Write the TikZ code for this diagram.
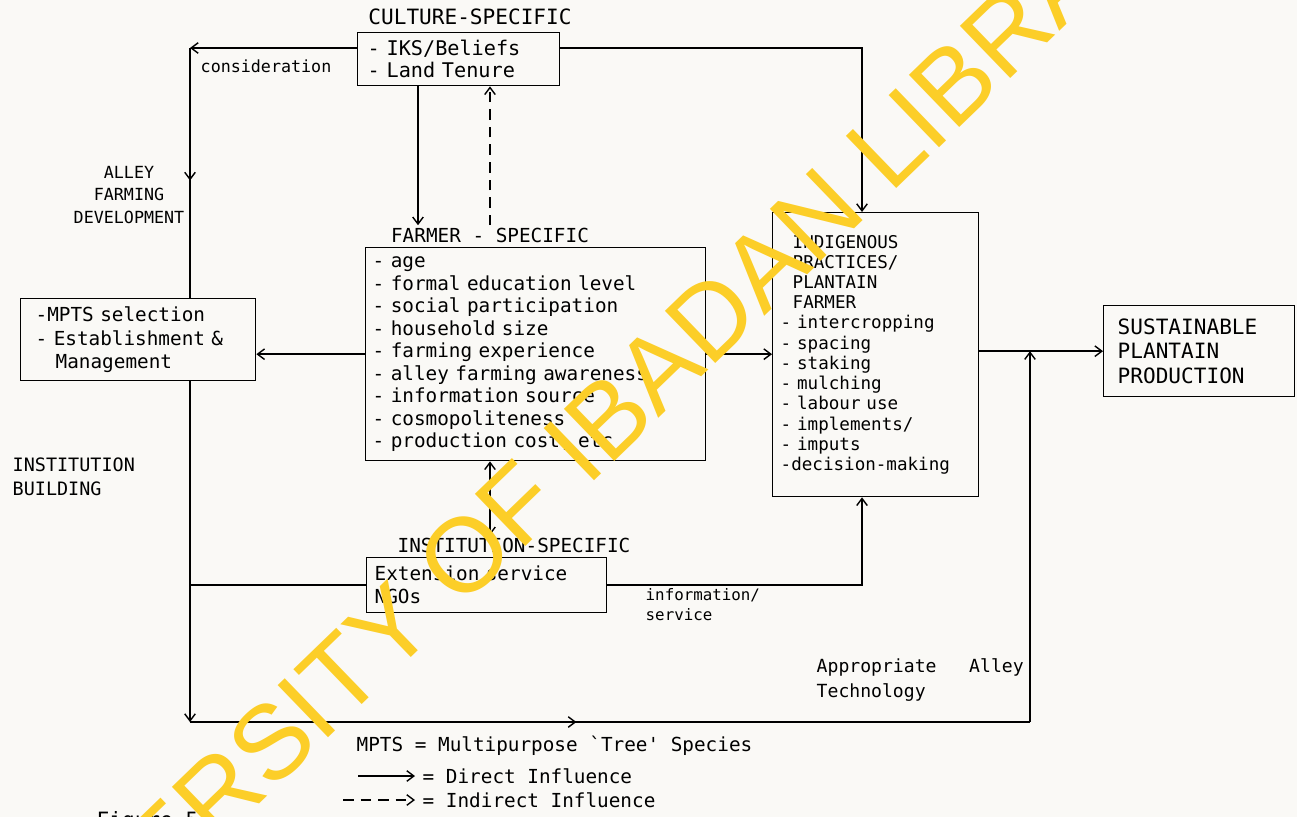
\documentclass[tikz,border=0pt]{standalone}
\usepackage{fontspec}
\newfontfamily\letterfont{DejaVu Sans Mono}
\newfontfamily\wmfont{Liberation Sans}
\usetikzlibrary{arrows.meta,decorations.markings}
\definecolor{wmyellow}{RGB}{252,206,40}
\definecolor{paper}{RGB}{250,249,246}

\begin{document}
\begin{tikzpicture}[x=0.02cm,y=-0.02cm,
  line width=0.8pt,
  tip/.style={-{Straight Barb[length=4pt,width=6pt]}},
  both/.style={{Straight Barb[length=4pt,width=6pt]}-{Straight Barb[length=4pt,width=6pt]}},
  midarrow/.style={postaction={decorate},
    decoration={markings,mark=at position #1 with {\arrow{Straight Barb[length=4pt,width=6pt]}}}},
  box/.style={draw,anchor=north west,inner ysep=0pt,align=left},
  title/.style={inner sep=1pt,font=\letterfont\fontsize{11}{13}\selectfont},
  note/.style={inner sep=0pt,font=\letterfont\fontsize{10.5}{13}\selectfont}
]
  \useasboundingbox[fill=paper] (0,0) rectangle (1297,817);

  % boxes
  \node[box,minimum height=1.06cm,inner xsep=0.2cm,text width=3.64cm,
    font=\letterfont\fontsize{11.5}{12.5}\selectfont] (culture) at (357,32)
    {- IKS/Beliefs\\- Land Tenure};
  \node[box,minimum height=4.26cm,inner xsep=0.14cm,text width=6.52cm,
    font=\letterfont\fontsize{11}{12.8}\selectfont] (farmer) at (365,247)
    {- age\\- formal education level\\- social participation\\- household size\\
     - farming experience\\- alley farming awareness\\- information source\\
     - cosmopoliteness\\- production cost, etc};
  \node[box,minimum height=1.64cm,inner xsep=0.3cm,text width=4.1cm,
    font=\letterfont\fontsize{11}{13.6}\selectfont] (mpts) at (20,298)
    {-MPTS selection\\- Establishment \&\\\hspace*{0.4cm}Management};
  \node[box,minimum height=5.68cm,inner xsep=0.16cm,text width=3.8cm,
    font=\letterfont\fontsize{10}{11.5}\selectfont] (indig) at (772,212)
    {\hspace*{0.24cm}INDIGENOUS\\\hspace*{0.24cm}PRACTICES/\\\hspace*{0.24cm}PLANTAIN\\
     \hspace*{0.24cm}FARMER\\- intercropping\\- spacing\\- staking\\- mulching\\
     - labour use\\- implements/\\- imputs\\-decision-making};
  \node[box,minimum height=1.82cm,inner xsep=0.28cm,text width=3.26cm,
    font=\letterfont\fontsize{12}{13.9}\selectfont] (spp) at (1103,305)
    {SUSTAINABLE\\PLANTAIN\\PRODUCTION};
  \node[box,minimum height=1.1cm,inner xsep=0.16cm,text width=4.48cm,
    font=\letterfont\fontsize{11}{13}\selectfont] (inst) at (366,557)
    {Extension service\\NGOs};

  % titles
  \node[title,font=\letterfont\fontsize{12}{13}\selectfont] (culturetitle) at (470,17) {CULTURE-SPECIFIC};
  \node[title] (farmertitle) at (490,235) {FARMER - SPECIFIC};
  \node[title] (insttitle) at (514,545) {INSTITUTION-SPECIFIC};

  % side texts
  \node[note,anchor=west,font=\letterfont\fontsize{9.5}{12}\selectfont] (consid) at (200,66) {consideration};
  \node[note,align=center,font=\letterfont\fontsize{9.5}{13}\selectfont] (alley) at (129,195) {ALLEY\\FARMING\\DEVELOPMENT};
  \node[note,align=left,anchor=west,font=\letterfont\fontsize{10.5}{13.6}\selectfont] (instbuild) at (12,477) {INSTITUTION\\BUILDING};
  \node[note,align=left,anchor=north west,font=\letterfont\fontsize{9}{11.4}\selectfont] (infoserv) at (645,588) {information/\\service};
  \node[note,align=left,anchor=west,font=\letterfont\fontsize{10.3}{14.2}\selectfont] (apptech) at (816,680) {Appropriate\ \ \ Alley\\Technology};

  % connectors
  \coordinate (cl) at (190,48);
  \coordinate (cr) at (862,48);
  \coordinate (bl) at (190,722);
  \coordinate (br) at (1030,722);
  \coordinate (down) at (418,0);
  \draw[tip] (culture.west |- cl) -- (cl);
  \draw[midarrow=0.53] (cl) -- (cl |- mpts.north);
  \draw[tip] (mpts.south -| bl) -- (bl);
  \draw[midarrow=0.46] (bl) -- (br);
  \draw[tip] (br) -- (br |- spp.west);
  \draw (inst.west) -- (inst.west -| bl);
  \draw[tip] (farmer.west) -- (farmer.west -| mpts.east);
  \draw[tip] (farmer.east) -- (farmer.east -| indig.west);
  \draw[tip] (spp.west -| indig.east) -- (spp.west);
  \draw[tip] (culture.east |- cr) -- (cr) -- (cr |- indig.north);
  \draw[tip] (inst.east) -| (cr |- indig.south);
  \draw[tip] (culture.south -| down) -- (farmertitle.north -| down);
  \draw[tip,dash pattern=on 6pt off 4pt] (farmertitle.north) -- (farmertitle.north |- culture.south);
  \draw[both] (farmertitle |- farmer.south) -- (farmertitle |- insttitle.north);

  % legend
  \node[note,anchor=west,font=\letterfont\fontsize{11}{13}\selectfont] (mptsdef) at (356,746) {MPTS = Multipurpose `Tree' Species};
  \coordinate (dirA) at (358,776);
  \coordinate (dirB) at (415,776);
  \coordinate (indA) at (343,800);
  \coordinate (indB) at (415,800);
  \draw[tip] (dirA) -- (dirB);
  \draw[tip,dash pattern=on 6pt off 4pt] (indA) -- (indB);
  \node[note,anchor=west,font=\letterfont\fontsize{11}{13}\selectfont] (direct) at (422,776) {= Direct Influence};
  \node[note,anchor=west,font=\letterfont\fontsize{11}{13}\selectfont] (indirect) at (422,800) {= Indirect Influence};
  \node[note,anchor=west,font=\letterfont\fontsize{12}{13}\selectfont] (figlabel) at (96,822) {Figure 5:};

  % library stamp
  \node[rotate=44,text=wmyellow,font=\wmfont\fontsize{60}{60}\selectfont] (stamp) at (574,450) {UNIVERSITY OF IBADAN LIBRARY};
\end{tikzpicture}
\end{document}
